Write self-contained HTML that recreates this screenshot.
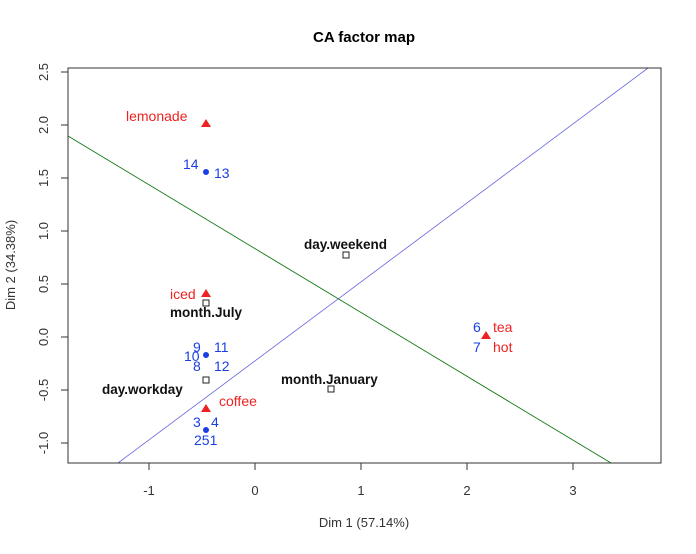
<!DOCTYPE html>
<html><head><style>body{margin:0;background:#fff}</style></head><body>
<svg width="696" height="549" xmlns="http://www.w3.org/2000/svg" font-family="Liberation Sans, Arial, sans-serif">
<rect width="696" height="549" fill="#fff"/>
<text x="364" y="42" font-size="15" font-weight="bold" text-anchor="middle">CA factor map</text>
<line x1="118" y1="463" x2="648" y2="68" stroke="#6666dd" stroke-width="0.8"/>
<line x1="68" y1="136" x2="611" y2="463" stroke="#117711" stroke-width="0.9"/>
<rect x="68" y="68" width="593" height="395" fill="none" stroke="#333" stroke-width="1"/>
<g stroke="#333" stroke-width="1">
<line x1="149" y1="463" x2="149" y2="470"/><line x1="255" y1="463" x2="255" y2="470"/><line x1="361" y1="463" x2="361" y2="470"/><line x1="467" y1="463" x2="467" y2="470"/><line x1="573" y1="463" x2="573" y2="470"/>
<line x1="61" y1="72" x2="68" y2="72"/><line x1="61" y1="125" x2="68" y2="125"/><line x1="61" y1="178" x2="68" y2="178"/><line x1="61" y1="231" x2="68" y2="231"/><line x1="61" y1="284" x2="68" y2="284"/><line x1="61" y1="337" x2="68" y2="337"/><line x1="61" y1="390" x2="68" y2="390"/><line x1="61" y1="443" x2="68" y2="443"/>
</g>
<g font-size="13" fill="#333" text-anchor="middle">
<text x="149" y="495">-1</text><text x="255" y="495">0</text><text x="361" y="495">1</text><text x="467" y="495">2</text><text x="573" y="495">3</text>
<text x="364" y="527">Dim 1 (57.14%)</text>
</g>
<g font-size="13" fill="#333" text-anchor="middle">
<text transform="translate(48,72) rotate(-90)">2.5</text>
<text transform="translate(48,125) rotate(-90)">2.0</text>
<text transform="translate(48,178) rotate(-90)">1.5</text>
<text transform="translate(48,231) rotate(-90)">1.0</text>
<text transform="translate(48,284) rotate(-90)">0.5</text>
<text transform="translate(48,337) rotate(-90)">0.0</text>
<text transform="translate(48,390) rotate(-90)">-0.5</text>
<text transform="translate(48,443) rotate(-90)">-1.0</text>
<text transform="translate(15,265) rotate(-90)">Dim 2 (34.38%)</text>
</g>
<g fill="#ee2222">
<polygon points="206,119 201,127 211,127"/>
<polygon points="206,289 201,297 211,297"/>
<polygon points="206,404 201,412 211,412"/>
<polygon points="486,331 481,339 491,339"/>
</g>
<g fill="#ee2222" font-size="14">
<text x="126" y="121">lemonade</text>
<text x="170" y="299">iced</text>
<text x="219" y="406">coffee</text>
<text x="493" y="332">tea</text>
<text x="493" y="352">hot</text>
</g>
<g fill="#1a3fe0">
<circle cx="206" cy="172" r="3"/><circle cx="206" cy="355" r="3"/><circle cx="206" cy="430" r="3"/>
</g>
<g fill="#1a3fe0" font-size="14">
<text x="183" y="169">14</text><text x="214" y="178">13</text>
<text x="193" y="352">9</text><text x="214" y="352">11</text>
<text x="184" y="361">10</text>
<text x="193" y="371">8</text><text x="214" y="371">12</text>
<text x="193" y="427">3</text><text x="211" y="427">4</text>
<text x="194" y="445">251</text>
<text x="473" y="332">6</text><text x="473" y="352">7</text>
</g>
<g fill="none" stroke="#222" stroke-width="1">
<rect x="343" y="252" width="6" height="6"/>
<rect x="203" y="300" width="6" height="6"/>
<rect x="203" y="377" width="6" height="6"/>
<rect x="328" y="386" width="6" height="6"/>
</g>
<g font-size="13.5" font-weight="bold" fill="#111">
<text x="304" y="249">day.weekend</text>
<text x="170" y="317">month.July</text>
<text x="102" y="394">day.workday</text>
<text x="281" y="384">month.January</text>
</g>
</svg>
</body></html>
